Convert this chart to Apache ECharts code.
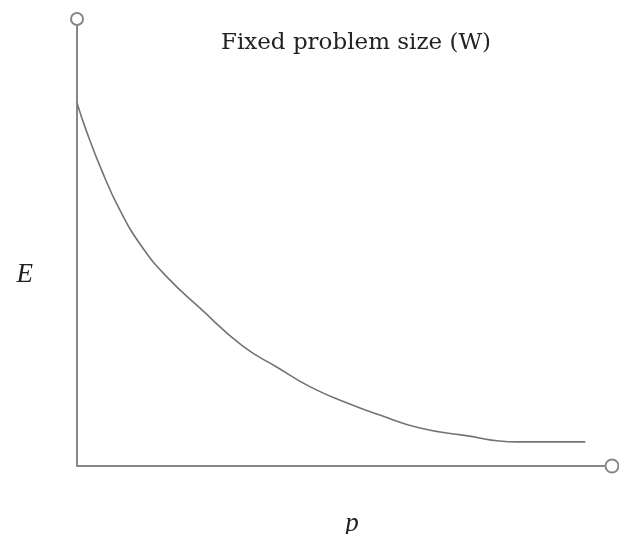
<!DOCTYPE html>
<html>
<head>
<meta charset="utf-8">
<script src="https://cdn.jsdelivr.net/npm/echarts@6/dist/echarts.min.js"></script>
<style>html,body{margin:0;padding:0;background:#fff}#c{width:619px;height:534px}</style>
</head>
<body>
<div id="c"></div>
<script>
// Processor count p (relative units) and efficiency E (relative units)
var pValues = [0, 1.8, 4.6, 8.0, 12.1, 16.8, 23.0, 31.0, 37.4, 43.6, 50.5, 56.6, 64.1, 72.1, 82.2, 95.0];
var eValues = [81.2, 74.8, 66.2, 57.3, 49.1, 42.3, 35.3, 26.8, 22.1, 17.7, 14.1, 11.4, 8.5, 6.9, 5.4, 5.4];
var titleText = 'Fixed problem size (W)';
var xName = 'p';
var yName = 'E';

var chart = echarts.init(document.getElementById('c'), null, {renderer: 'canvas', width: 619, height: 534});
var seriesData = pValues.map(function (p, i) { return [p, eValues[i]]; });
var axisColor = '#878787';
chart.setOption({
  animation: false,
  backgroundColor: '#ffffff',
  title: {
    text: titleText,
    left: 351,
    textAlign: 'center',
    top: 27,
    textStyle: {fontFamily: 'DejaVu Serif', fontSize: 23, fontWeight: 'normal', color: '#222'}
  },
  grid: {left: 77, right: 7, top: 19, bottom: 68, containLabel: false, outerBoundsMode: 'none'},
  xAxis: {
    type: 'value', min: 0, max: 100,
    name: xName, nameLocation: 'middle', nameGap: 44,
    nameTextStyle: {fontFamily: 'Liberation Serif', fontStyle: 'italic', fontSize: 27, color: '#222', padding: [0, 0, 0, 15]},
    axisLine: {show: true, onZero: false, symbol: ['none', 'emptyCircle'], symbolSize: [13, 13],
      lineStyle: {color: axisColor, width: 2}},
    axisTick: {show: false}, axisLabel: {show: false}, splitLine: {show: false}
  },
  yAxis: {
    type: 'value', min: 0, max: 100,
    name: yName, nameLocation: 'middle', nameGap: 44, nameRotate: 0,
    nameTextStyle: {fontFamily: 'Liberation Serif', fontStyle: 'italic', fontSize: 27, color: '#222',
      verticalAlign: 'top', lineHeight: 64},
    axisLine: {show: true, onZero: false, symbol: ['none', 'emptyCircle'], symbolSize: [12, 12],
      lineStyle: {color: axisColor, width: 2}},
    axisTick: {show: false}, axisLabel: {show: false}, splitLine: {show: false}
  },
  series: [{
    type: 'line',
    data: seriesData,
    smooth: true,
    showSymbol: false,
    lineStyle: {color: '#737373', width: 1.6}
  }]
});
</script>
</body>
</html>
